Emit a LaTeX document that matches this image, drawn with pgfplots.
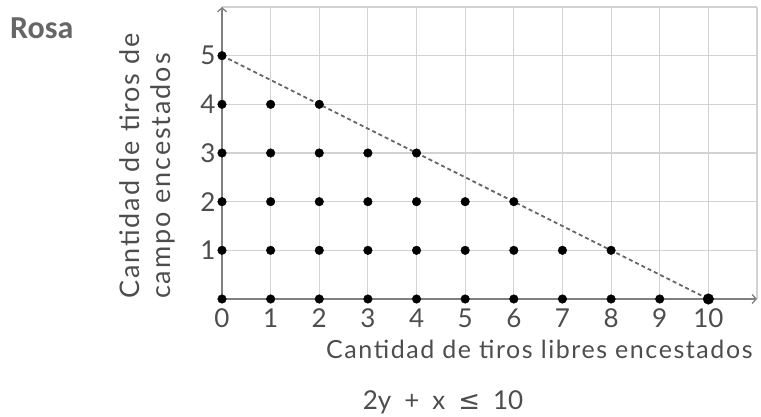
\documentclass[border=0pt]{standalone}
\usepackage{fontspec}
\usepackage{pgfplots}
\pgfplotsset{compat=1.18}
\usetikzlibrary{arrows.meta}
\setmainfont{Lato}
\newfontfamily\titlefont{Carlito}
\newfontfamily\symfont{DejaVu Sans}
\newfontfamily\xlabfont[LetterSpace=6.3]{Lato}
\newfontfamily\ylabfont[LetterSpace=7]{Lato}
\definecolor{txt}{HTML}{4D4D4D}
\definecolor{gridc}{HTML}{D3D3D3}
\definecolor{axc}{HTML}{808080}
\definecolor{dashc}{HTML}{666666}
\newcommand{\tT}{\fontsize{32}{38}\selectfont}
\newcommand{\tX}{\fontsize{25}{30}\selectfont}
\newcommand{\tY}{\fontsize{27}{31}\selectfont}
\newcommand{\tE}{\fontsize{26}{30}\selectfont}
\newcommand{\tK}{\fontsize{26}{30}\selectfont}
\begin{document}
\begin{tikzpicture}
\path[use as bounding box] (0,0) rectangle (761pt,-417pt);
\begin{axis}[
  at={(222pt,-299pt)}, anchor=south west,
  scale only axis, width=535pt, height=292pt,
  xmin=0, xmax=11, ymin=0, ymax=6,
  axis lines=left,
  axis line style={axc, line width=1.3pt, -{Straight Barb[length=4pt,width=9pt]}},
  xtick={0,...,11}, xticklabels={0,1,2,3,4,5,6,7,8,9,10,},
  ytick={1,...,6}, yticklabels={1,2,3,4,5,},
  major tick length=0pt,
  grid=major, grid style={gridc, line width=1.1pt},
  tick label style={font=\tK, text=txt},
  xticklabel style={yshift=-6pt},
  yticklabel style={xshift=-3pt},
  clip=false,
]
\addplot[dashc, line width=1.8pt, dash pattern=on 4pt off 3pt] coordinates {(0,5) (10,0)};
\addplot[only marks, mark=*, mark size=4.3pt, black] coordinates {
  (0,0) (1,0) (2,0) (3,0) (4,0) (5,0) (6,0) (7,0) (8,0) (9,0)
  (0,1) (1,1) (2,1) (3,1) (4,1) (5,1) (6,1) (7,1) (8,1)
  (0,2) (1,2) (2,2) (3,2) (4,2) (5,2) (6,2)
  (0,3) (1,3) (2,3) (3,3) (4,3)
  (0,4) (1,4) (2,4)
  (0,5)
};
\addplot[only marks, mark=*, mark size=5.3pt, black] coordinates {(10,0)};
\end{axis}
\node[anchor=base west, inner sep=0pt, font=\titlefont\bfseries\tT, text=dashc] at (10pt,-39pt) {Rosa};
\node[rotate=90, anchor=west, align=left, inner sep=0pt, font=\ylabfont\tY, text=txt] at (147.5pt,-299pt)
  {Cantidad de tiros de\\campo encestados};
\node[anchor=base west, inner sep=0pt, font=\xlabfont\tX, text=txt] at (326pt,-358pt)
  {Cantidad de tiros libres encestados};
\node[anchor=base, inner sep=0pt, font=\tE, text=txt] at (443pt,-409pt)
  {2y\hspace{13pt}+\hspace{13pt}x\hspace{13pt}{\symfont ≤}\hspace{13pt}10};
\end{tikzpicture}
\end{document}
